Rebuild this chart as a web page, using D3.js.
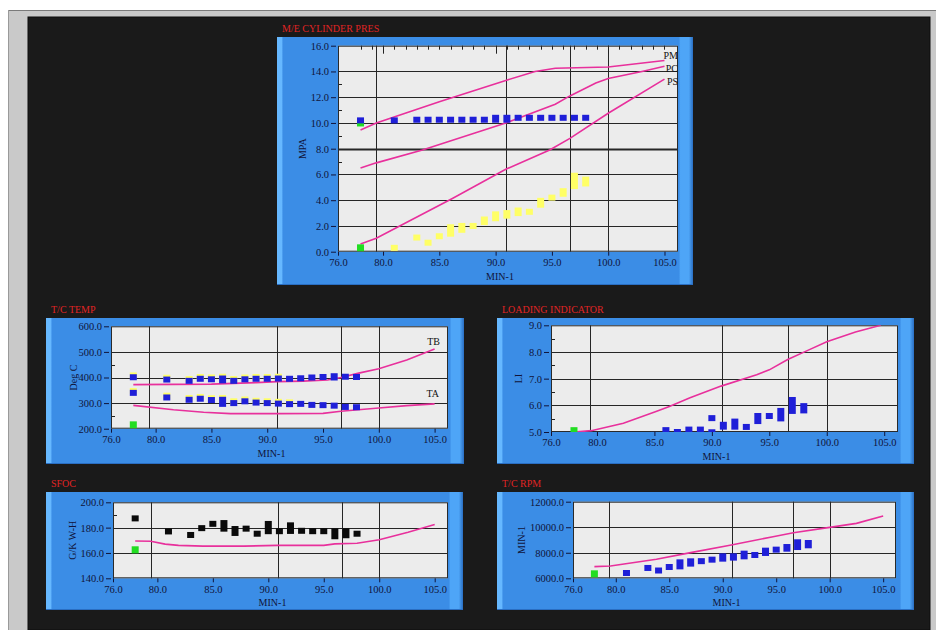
<!DOCTYPE html>
<html lang="en">
<head>
<meta charset="utf-8">
<script src="https://d3js.org/d3.v7.min.js"></script>
<style>
  body { margin: 0; background: #fff; }
  svg text { font-family: "Liberation Serif", "DejaVu Serif", serif; }
</style>
</head>
<body>
<script>
// ---- data (engine speed in min-1 on every x axis) ----
const xTicks = [76, 80, 85, 90, 95, 100, 105];
const xGrid = [79.4, 90.9, 96.6, 100];

// M/E cylinder pressure
const cylTicks = [0, 2, 4, 6, 8, 10, 12, 14, 16];
const pmLine = [[78, 9.45], [79.4, 10.0], [85, 11.65], [90.9, 13.3], [93.5, 14.0], [95.3, 14.25], [100, 14.35], [105, 14.85]];
const pcLine = [[78, 6.5], [79.4, 6.9], [83.5, 7.9], [90.9, 10.0], [95.3, 11.45], [96.6, 12.1], [98.9, 13.1], [100, 13.45], [103, 14.0], [105, 14.4]];
const psLine = [[78, 0.6], [79.4, 1.05], [86.2, 4.15], [90.9, 6.4], [94.8, 7.9], [96.6, 8.8], [100, 10.75], [105, 13.4]];
const pmaxMeas = [[78, 10.2, 10.2], [81, 10.2, 10.2], [83, 10.25, 10.25], [84, 10.25, 10.25], [85, 10.25, 10.25], [86, 10.25, 10.25],
  [87, 10.25, 10.25], [88, 10.25, 10.25], [89, 10.25, 10.25], [90, 10.25, 10.4], [91, 10.25, 10.4], [92, 10.4, 10.4],
  [93, 10.4, 10.4], [94, 10.4, 10.4], [95, 10.4, 10.4], [96, 10.4, 10.4], [97, 10.4, 10.4], [98, 10.4, 10.4]];
const pyelMeas = [[81, 0.3, 0.3], [83, 1.1, 1.1], [84, 0.7, 0.7], [85, 1.2, 1.2], [86, 1.4, 1.9], [87, 1.7, 2.0], [88, 2.0, 2.0],
  [89, 2.3, 2.5], [90, 2.6, 2.9], [91, 2.8, 3.0], [92, 3.0, 3.2], [93, 3.1, 3.1], [94, 3.65, 3.95], [95, 4.2, 4.2],
  [96, 4.5, 4.7], [97, 5.1, 5.9], [98, 5.3, 5.6]];
const cylGreen = [[78, 10.0], [78, 0.3]];

// T/C temperature
const tempTicks = [200, 300, 400, 500, 600];
const tbLine = [[78, 372], [85, 374], [89, 380], [90.9, 384], [93.2, 386], [95.4, 390], [96.6, 400], [98.2, 417], [100, 434], [102.5, 468], [105, 511]];
const taLine = [[78, 291], [81.6, 274], [84.3, 264], [86.7, 259], [90.9, 259], [95, 260], [96.6, 268], [100, 281], [102.5, 290], [105, 297]];
const tbYellow = [[78, 408, 408], [81, 399, 399], [83, 394, 394], [84, 402, 402], [85, 400, 400], [86, 403, 403], [87, 394, 394],
  [88, 400, 400], [89, 402, 402], [90, 402, 402], [91, 403, 403]];
const taYellow = [[78, 347, 347], [81, 329, 329], [83, 320, 320], [84, 324, 324], [85, 319, 319], [86, 320, 320], [87, 307, 307],
  [88, 314, 314], [89, 309, 309], [90, 307, 307], [91, 305, 305], [92, 303, 303]];
const tbMeas = [[78, 401, 401], [81, 392, 392], [83, 387, 387], [84, 395, 395], [85, 393, 393], [86, 389, 396], [87, 387, 387],
  [88, 393, 393], [89, 395, 395], [90, 395, 395], [91, 396, 396], [92, 395, 395], [93, 397, 397], [94, 400, 400],
  [95, 402, 402], [96, 400, 405], [97, 403, 403], [98, 402, 402]];
const taMeas = [[78, 340, 340], [81, 322, 322], [83, 313, 313], [84, 317, 317], [85, 312, 312], [86, 297, 313], [87, 300, 300],
  [88, 307, 307], [89, 302, 302], [90, 300, 300], [91, 298, 298], [92, 296, 296], [93, 297, 297], [94, 293, 293],
  [95, 292, 292], [96, 290, 290], [97, 285, 285], [98, 284, 284]];
const tempGreen = [[78, 215]];

// loading indicator
const liTicks = [5, 6, 7, 8, 9];
const liLine = [[78, 5.0], [79.5, 5.05], [82.3, 5.33], [85.2, 5.78], [86.3, 5.96], [88.1, 6.28], [90.8, 6.72], [93.9, 7.15],
  [95, 7.33], [96.6, 7.72], [98.3, 8.05], [100, 8.38], [102.5, 8.75], [104.7, 9.0]];
const liMeas = [[85, 4.89, 4.89], [86, 5.02, 5.07], [87, 5.0, 5.0], [88, 5.04, 5.09], [89, 5.07, 5.09], [90, 4.99, 4.99],
  [90, 5.52, 5.52], [91, 5.2, 5.27], [92, 5.2, 5.39], [93, 5.19, 5.19], [94, 5.41, 5.6], [95, 5.6, 5.6], [96, 5.51, 5.79],
  [97, 5.79, 6.2], [98, 5.81, 5.97]];
const liGreen = [[78, 5.05]];

// SFOC
const sfocTicks = [140, 160, 180, 200];
const sfocLine = [[78, 169.4], [79.4, 169.2], [80.7, 167], [81.9, 166], [84.1, 165.4], [87.8, 165.4], [90.8, 166], [95, 166],
  [96, 167.2], [98, 167.7], [100, 170.4], [102.6, 176.4], [105, 182.5]];
const sfocMeas = [[78, 187.3, 187.3], [81, 177, 177], [83, 174.2, 174.2], [84, 179.6, 179.6], [85, 183, 183], [86, 179.2, 183.6],
  [87, 175.8, 178.9], [88, 179.2, 179.2], [89, 175.2, 175.2], [90, 177.2, 182.9], [91, 177.2, 177.2], [92, 177.4, 181.8],
  [93, 177.5, 177.5], [94, 177.2, 177.2], [95, 177.2, 177.2], [96, 173.2, 177.1], [97, 174, 177.1], [98, 175.2, 175.2]];
const sfocGreen = [[78, 162.5]];

// T/C rpm
const rpmTicks = [6000, 8000, 10000, 12000];
const rpmLine = [[78, 6913], [79.5, 6965], [83.8, 7487], [87, 8009], [90.8, 8608], [94.7, 9260], [96.6, 9574], [100, 9991],
  [102.5, 10304], [105, 10880]];
const rpmMeas = [[81, 6415, 6415], [83, 6810, 6810], [84, 6610, 6610], [85, 6885, 6885], [86, 6935, 7250], [87, 7150, 7330],
  [88, 7343, 7343], [89, 7460, 7460], [90, 7540, 7720], [91, 7620, 7720], [92, 7720, 7930], [93, 7826, 7826],
  [94, 7985, 8165], [95, 8245, 8245], [96, 8320, 8450], [97, 8450, 8820], [98, 8585, 8765]];
const rpmGreen = [[78, 6350]];

// ---- drawing ----
const W = 936, H = 630;
const PINK = "#e8309c", BLUE = "#1f1fd8", YEL = "#ffff66", GRN = "#22dd22";

const svg = d3.select("body").append("svg").attr("width", W).attr("height", H);

// window frame
svg.append("rect").attr("width", W).attr("height", H).attr("fill", "#fff");
svg.append("rect").attr("x", 8).attr("y", 10).attr("width", W - 8).attr("height", H - 10).attr("fill", "#c9c9c9");
svg.append("line").attr("x1", 8).attr("x2", W).attr("y1", 10.5).attr("y2", 10.5).attr("stroke", "#7a7a7a");
svg.append("line").attr("x1", 8.5).attr("x2", 8.5).attr("y1", 10).attr("y2", H).attr("stroke", "#9a9a9a");
svg.append("rect").attr("x", 28).attr("y", 17).attr("width", 902).attr("height", 613)
  .attr("fill", "#1a1a1a").attr("stroke", "#0c0c0c");

const defs = svg.append("defs");
const grad = defs.append("linearGradient").attr("id", "panelGrad");
[[0, "#66b8ff"], [0.012, "#66b8ff"], [0.014, "#3b8de6"], [0.966, "#3b8de6"], [0.97, "#4ea5f7"], [0.99, "#4ea5f7"], [1, "#2a6ec2"]]
  .forEach(s => grad.append("stop").attr("offset", s[0]).attr("stop-color", s[1]));

const panels = [
  { id: "cyl", title: "M/E CYLINDER PRES", box: [277, 37, 416, 248], plot: [338, 45.7, 678, 251.7],
    yDomain: [0, 16], yTicks: cylTicks, minor: [7, 9, 11, 13], heavy: [8], yTitle: "MPA", yTitleDx: -36, topTicks: true,
    lines: [{ d: pmLine, label: "PM", lx: 678, ly: 58.5 }, { d: pcLine, label: "PC", lx: 678, ly: 71.5 }, { d: psLine, label: "PS", lx: 678, ly: 84.5 }],
    squares: [{ d: pyelMeas, c: YEL }, { d: pmaxMeas, c: BLUE }], green: cylGreen },
  { id: "temp", title: "T/C TEMP", box: [46, 318, 418, 146], plot: [111, 326.3, 448, 428.7],
    yDomain: [200, 600], yTicks: tempTicks, minor: [250, 450], heavy: [], yTitle: "Deg C", yTitleDx: -38,
    lines: [{ d: tbLine, label: "TB", lx: 440, ly: 344.5 }, { d: taLine, label: "TA", lx: 439, ly: 396.5 }],
    squares: [{ d: tbYellow, c: YEL }, { d: taYellow, c: YEL }, { d: tbMeas, c: BLUE }, { d: taMeas, c: BLUE }], green: tempGreen },
  { id: "li", title: "LOADING INDICATOR", box: [497, 318, 417, 146], plot: [551, 325.3, 898, 432],
    yDomain: [5, 9], yTicks: liTicks, minor: [5.5, 6.5, 7.5, 8.5], heavy: [], yTitle: "LI", yTitleDx: -33,
    lines: [{ d: liLine }], squares: [{ d: liMeas, c: BLUE }], green: liGreen },
  { id: "sfoc", title: "SFOC", box: [46, 492, 417, 118], plot: [113, 502.3, 448, 578.3],
    yDomain: [140, 200], yTicks: sfocTicks, minor: [190], heavy: [], yTitle: "G/K W-H", yTitleDx: -41,
    lines: [{ d: sfocLine }], squares: [{ d: sfocMeas, c: "#0a0a0a" }], green: sfocGreen },
  { id: "rpm", title: "T/C RPM", box: [497, 492, 417, 118], plot: [573, 501.7, 896, 578.3],
    yDomain: [6000, 12000], yTicks: rpmTicks, minor: [], heavy: [], yTitle: "MIN-1", yTitleDx: -52,
    lines: [{ d: rpmLine }], squares: [{ d: rpmMeas, c: BLUE }], green: rpmGreen }
];

panels.forEach(drawPanel);

function drawPanel(o) {
  const [bx, by, bw, bh] = o.box;
  const [pl, pt, pr, pb] = o.plot;
  const g = svg.append("g");

  g.append("text").text(o.title).attr("x", bx + 5).attr("y", by - 5)
    .attr("fill", "#e02424").style("font-size", "10px");
  g.append("rect").attr("x", bx).attr("y", by).attr("width", bw).attr("height", bh).attr("fill", "url(#panelGrad)");
  g.append("line").attr("x1", bx).attr("x2", bx + bw).attr("y1", by + bh - 0.5).attr("y2", by + bh - 0.5)
    .attr("stroke", "#2a6ec2");

  const x = d3.scaleLinear().domain([76, 106.2]).range([pl, pr]);
  const y = d3.scaleLinear().domain(o.yDomain).range([pb, pt]);

  g.append("rect").attr("x", pl).attr("y", pt).attr("width", pr - pl).attr("height", pb - pt).attr("fill", "#ececec");

  defs.append("clipPath").attr("id", "clip-" + o.id)
    .append("rect").attr("x", pl).attr("y", pt).attr("width", pr - pl).attr("height", pb - pt);

  // grid
  g.append("g").selectAll("line").data(xGrid).join("line")
    .attr("x1", d => Math.round(x(d)) + 0.5).attr("x2", d => Math.round(x(d)) + 0.5)
    .attr("y1", pt).attr("y2", pb).attr("stroke", "#262626");
  g.append("g").selectAll("line").data(o.yTicks.slice(1, -1)).join("line")
    .attr("x1", pl).attr("x2", pr)
    .attr("y1", d => Math.round(y(d)) + 0.5).attr("y2", d => Math.round(y(d)) + 0.5)
    .attr("stroke", "#262626").attr("stroke-width", d => o.heavy.includes(d) ? 2 : 1);

  // minor ticks
  g.append("g").selectAll("line").data(o.minor).join("line")
    .attr("x1", pl).attr("x2", pl + 4).attr("y1", d => Math.round(y(d)) + 0.5).attr("y2", d => Math.round(y(d)) + 0.5)
    .attr("stroke", "#222");
  if (o.topTicks) {
    g.append("g").selectAll("line").data(d3.range(78, 106)).join("line")
      .attr("x1", d => Math.round(x(d)) + 0.5).attr("x2", d => Math.round(x(d)) + 0.5)
      .attr("y1", pt).attr("y2", d => pt + (d % 10 === 0 ? 8 : 4)).attr("stroke", "#222");
  }

  g.append("rect").attr("x", pl + 0.5).attr("y", pt + 0.5).attr("width", pr - pl - 1).attr("height", pb - pt - 1)
    .attr("fill", "none").attr("stroke", "#2a2a2a");

  const inner = g.append("g").attr("clip-path", "url(#clip-" + o.id + ")");

  // lines
  const line = d3.line().x(d => x(d[0])).y(d => y(d[1]));
  o.lines.forEach(l => {
    inner.append("path").datum(l.d).attr("d", line).attr("fill", "none")
      .attr("stroke", PINK).attr("stroke-width", 1.6);
    if (l.label) {
      g.append("text").text(l.label).attr("x", l.lx).attr("y", l.ly).attr("text-anchor", "end")
        .attr("fill", "#111").style("font-size", "10px");
    }
  });

  // measured points (stacked squares)
  inner.append("g").selectAll("rect").data(o.green).join("rect")
    .attr("x", d => x(d[0]) - 3.5).attr("y", d => y(d[1]) - 3.5).attr("width", 7).attr("height", 7).attr("fill", GRN);
  o.squares.forEach(s => {
    inner.append("g").selectAll("rect").data(s.d).join("rect")
      .attr("x", d => x(d[0]) - 3.5).attr("y", d => y(d[2]) - 3)
      .attr("width", 7).attr("height", d => y(d[1]) - y(d[2]) + 6).attr("fill", s.c);
  });

  // axes
  const ya = g.append("g").attr("transform", `translate(${pl - 2},0)`)
    .call(d3.axisLeft(y).tickValues(o.yTicks).tickFormat(d3.format(".1f")).tickSize(5).tickPadding(2));
  const xa = g.append("g").attr("transform", `translate(0,${pb})`)
    .call(d3.axisBottom(x).tickValues(xTicks).tickFormat(d3.format(".1f")).tickSize(4).tickPadding(3));
  [ya, xa].forEach(a => {
    a.select(".domain").remove();
    a.selectAll("line").attr("stroke", "#10143a");
    a.selectAll("text").attr("fill", "#10143a").style("font-size", "10.5px")
      .style("font-family", '"Liberation Serif", serif');
  });

  g.append("text").text("MIN-1").attr("x", (pl + pr) / 2 - 8).attr("y", pb + 28)
    .attr("text-anchor", "middle").attr("fill", "#10143a").style("font-size", "10px");
  g.append("text").text(o.yTitle)
    .attr("transform", `translate(${pl + o.yTitleDx},${(pt + pb) / 2}) rotate(-90)`)
    .attr("text-anchor", "middle").attr("dominant-baseline", "central")
    .attr("fill", "#10143a").style("font-size", "10px");
}
</script>
</body>
</html>
